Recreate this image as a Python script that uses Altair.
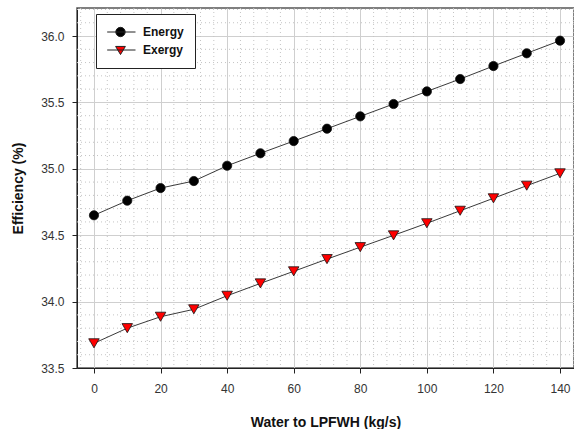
import altair as alt
import pandas as pd

# Flow of water diverted to the low-pressure feedwater heater (kg/s)
flow = [0, 10, 20, 30, 40, 50, 60, 70, 80, 90, 100, 110, 120, 130, 140]

# Plant efficiencies (%)
energy = [34.65, 34.76, 34.855, 34.908, 35.023, 35.117, 35.209, 35.302,
          35.395, 35.488, 35.583, 35.676, 35.774, 35.870, 35.965]
exergy = [33.686, 33.80, 33.886, 33.942, 34.044, 34.137, 34.228, 34.32,
          34.41, 34.499, 34.59, 34.684, 34.778, 34.873, 34.966]

series_names = ["Energy", "Exergy"]
series_fill = ["#000000", "#ff0000"]

x_ticks = [0, 20, 40, 60, 80, 100, 120, 140]
y_ticks = [33.5, 34.0, 34.5, 35.0, 35.5, 36.0]

# dotted minor grid positions
minor_x = [-4, 4, 8, 12, 16, 24, 28, 32, 36, 44, 48, 52, 56, 64, 68, 72, 76,
           84, 88, 92, 96, 104, 108, 112, 116, 124, 128, 132, 136, 144]
minor_y = [33.6, 33.7, 33.8, 33.9, 34.1, 34.2, 34.3, 34.4, 34.6, 34.7, 34.8,
           34.9, 35.1, 35.2, 35.3, 35.4, 35.6, 35.7, 35.8, 35.9, 36.1, 36.2]

FONT = "Liberation Sans"

df = pd.DataFrame({
    "flow": flow * 2,
    "eff": energy + exergy,
    "series": [series_names[0]] * len(flow) + [series_names[1]] * len(flow),
})

x_scale = alt.Scale(domain=[-5.1, 144.2], nice=False, zero=False)
y_scale = alt.Scale(domain=[33.5, 36.211], nice=False, zero=False)

x_enc = alt.X(
    "flow:Q", scale=x_scale,
    axis=alt.Axis(values=x_ticks, title="Water to LPFWH (kg/s)", format="d",
                  labelPadding=10, titlePadding=21),
)
y_enc = alt.Y(
    "eff:Q", scale=y_scale,
    axis=alt.Axis(values=y_ticks, title="Efficiency (%)", format=".1f",
                  labelPadding=8, titlePadding=15),
)

minor_x_rules = alt.Chart(pd.DataFrame({"mx": minor_x})).mark_rule(
    color="#c4c4c4", strokeWidth=1, strokeDash=[1, 3]
).encode(x=alt.X("mx:Q", scale=x_scale))

minor_y_rules = alt.Chart(pd.DataFrame({"my": minor_y})).mark_rule(
    color="#c4c4c4", strokeWidth=1, strokeDash=[1, 3]
).encode(y=alt.Y("my:Q", scale=y_scale))

lines = alt.Chart(df).mark_line(color="#3a3a3a", strokeWidth=1).encode(
    x=x_enc, y=y_enc, detail="series:N"
)

energy_pts = alt.Chart(df).transform_filter(
    alt.datum.series == series_names[0]
).mark_point(
    shape="circle", filled=True, fill=series_fill[0], stroke="#111111",
    strokeWidth=0.8, size=85, opacity=1
).encode(x=x_enc, y=y_enc)

exergy_pts = alt.Chart(df).transform_filter(
    alt.datum.series == series_names[1]
).mark_point(
    shape="triangle-down", filled=True, fill=series_fill[1], stroke="#111111",
    strokeWidth=0.8, size=110, opacity=1
).encode(x=x_enc, y=y_enc)

# legend glyphs: short line segment with the marker in its middle
energy_glyph = "M-1.05,0L3.31,0M1.72,0A0.72,0.72,0,1,1,0.28,0A0.72,0.72,0,1,1,1.72,0Z"
exergy_glyph = "M-1.05,0L3.31,0M0.25,-0.55L1.75,-0.55L1,0.7Z"

legend_style = dict(
    title=None, orient="none", legendX=19, legendY=6,
    padding=11, fillColor="white", strokeColor="#222222",
    labelFont=FONT, labelFontSize=12, labelFontWeight="bold",
    labelColor="#111111", labelOffset=22, symbolSize=169,
    symbolStrokeWidth=1, symbolOpacity=1, rowPadding=4,
)

# zero-size points that only carry the series legend
legend_layer = alt.Chart(df).mark_point(
    filled=True, stroke="#222222", size=0, opacity=1
).encode(
    x=x_enc, y=y_enc,
    shape=alt.Shape(
        "series:N",
        scale=alt.Scale(domain=series_names, range=[energy_glyph, exergy_glyph]),
        legend=alt.Legend(**legend_style),
    ),
    fill=alt.Fill(
        "series:N",
        scale=alt.Scale(domain=series_names, range=series_fill),
        legend=alt.Legend(**legend_style),
    ),
)

chart = alt.layer(
    minor_x_rules, minor_y_rules, lines, energy_pts, exergy_pts, legend_layer
).properties(
    width=497, height=360,
    autosize=alt.AutoSizeParams(type="none"),
    padding={"left": 77, "top": 8, "right": 0, "bottom": 61},
    background="white",
).configure_view(
    stroke="#555555", strokeWidth=1.5
).configure_axis(
    labelFont=FONT, labelFontSize=12, labelColor="#333333",
    titleFont=FONT, titleFontSize=14, titleFontWeight="bold", titleColor="#111111",
    domainColor="#222222", tickColor="#222222", tickSize=5,
    gridColor="#cfcfcf", gridWidth=1,
)

chart.save("out.html", embed_options={"renderer": "svg", "actions": False})
